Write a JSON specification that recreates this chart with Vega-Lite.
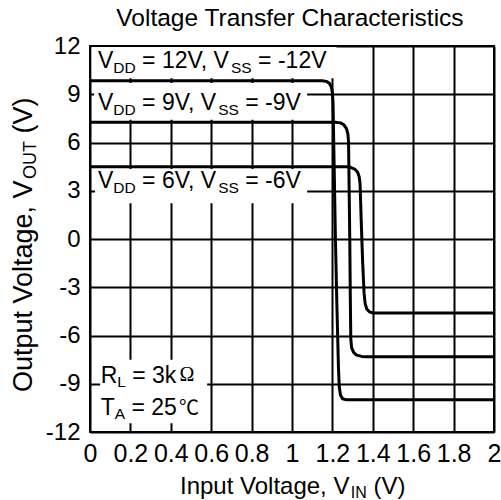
{
  "$schema": "https://vega.github.io/schema/vega-lite/v6.json",
  "width": 404,
  "height": 386,
  "autosize": {"type": "none"},
  "padding": {"left": 90, "top": 46, "right": 7, "bottom": 68},
  "background": "white",
  "config": {"view": {"stroke": null}},
  "datasets": {
    "curves": [
      {"x": 0, "y": 9.84, "s": "12V"}, {"x": 1.15, "y": 9.84, "s": "12V"}, {"x": 1.17, "y": 9.8, "s": "12V"}, {"x": 1.185, "y": 9.68, "s": "12V"}, {"x": 1.195, "y": 9.45, "s": "12V"}, {"x": 1.2, "y": 9.1, "s": "12V"}, {"x": 1.203, "y": 8.5, "s": "12V"}, {"x": 1.208, "y": 5, "s": "12V"}, {"x": 1.215, "y": 0, "s": "12V"}, {"x": 1.222, "y": -4, "s": "12V"}, {"x": 1.23, "y": -8, "s": "12V"}, {"x": 1.234, "y": -9.2, "s": "12V"}, {"x": 1.24, "y": -9.7, "s": "12V"}, {"x": 1.25, "y": -9.93, "s": "12V"}, {"x": 1.27, "y": -10.0, "s": "12V"}, {"x": 2, "y": -10.0, "s": "12V"},
      {"x": 0, "y": 7.26, "s": "9V"}, {"x": 1.215, "y": 7.26, "s": "9V"}, {"x": 1.24, "y": 7.22, "s": "9V"}, {"x": 1.257, "y": 7.1, "s": "9V"}, {"x": 1.27, "y": 6.85, "s": "9V"}, {"x": 1.277, "y": 6.5, "s": "9V"}, {"x": 1.28, "y": 6.0, "s": "9V"}, {"x": 1.283, "y": 3, "s": "9V"}, {"x": 1.286, "y": 0, "s": "9V"}, {"x": 1.289, "y": -4, "s": "9V"}, {"x": 1.291, "y": -6.2, "s": "9V"}, {"x": 1.295, "y": -6.75, "s": "9V"}, {"x": 1.305, "y": -7.05, "s": "9V"}, {"x": 1.32, "y": -7.22, "s": "9V"}, {"x": 1.345, "y": -7.3, "s": "9V"}, {"x": 1.37, "y": -7.32, "s": "9V"}, {"x": 2, "y": -7.32, "s": "9V"},
      {"x": 0, "y": 4.5, "s": "6V"}, {"x": 1.265, "y": 4.5, "s": "6V"}, {"x": 1.29, "y": 4.46, "s": "6V"}, {"x": 1.31, "y": 4.35, "s": "6V"}, {"x": 1.325, "y": 4.15, "s": "6V"}, {"x": 1.333, "y": 3.85, "s": "6V"}, {"x": 1.337, "y": 3.45, "s": "6V"}, {"x": 1.343, "y": 1, "s": "6V"}, {"x": 1.35, "y": -1.5, "s": "6V"}, {"x": 1.357, "y": -3.4, "s": "6V"}, {"x": 1.362, "y": -4.0, "s": "6V"}, {"x": 1.37, "y": -4.35, "s": "6V"}, {"x": 1.383, "y": -4.53, "s": "6V"}, {"x": 1.4, "y": -4.6, "s": "6V"}, {"x": 2, "y": -4.6, "s": "6V"}
    ],
    "boxes": [
      {"x": 0.008, "x2": 1.22, "y": 11.94, "y2": 10.0},
      {"x": 0.02, "x2": 1.075, "y": 9.7, "y2": 7.42},
      {"x": 0.025, "x2": 1.075, "y": 4.35, "y2": 2.22},
      {"x": 0.05, "x2": 0.58, "y": -7.5, "y2": -11.45}
    ],
    "frame": [{"x": 0, "x2": 2, "y": -12, "y2": 12}],
    "title": [{"t": "Voltage Transfer Characteristics", "x": 0.99, "y": 13.24}],
    "main": [
      {"t": "V", "x": 0.0396, "y": 10.61}, {"t": "= 12V, V", "x": 0.2579, "y": 10.61}, {"t": "= -12V", "x": 0.8322, "y": 10.61},
      {"t": "V", "x": 0.0396, "y": 8.02}, {"t": "= 9V, V", "x": 0.2579, "y": 8.02}, {"t": "= -9V", "x": 0.7688, "y": 8.02},
      {"t": "V", "x": 0.0396, "y": 3.15}, {"t": "= 6V, V", "x": 0.2579, "y": 3.15}, {"t": "= -6V", "x": 0.7688, "y": 3.15},
      {"t": "R", "x": 0.053, "y": -8.96}, {"t": "= 3k", "x": 0.2089, "y": -8.96},
      {"t": "T", "x": 0.053, "y": -10.95}, {"t": "= 25", "x": 0.2054, "y": -10.95}
    ],
    "sub": [
      {"t": "DD", "x": 0.1154, "y": 10.3}, {"t": "SS", "x": 0.698, "y": 10.3},
      {"t": "DD", "x": 0.1154, "y": 7.71}, {"t": "SS", "x": 0.6347, "y": 7.71},
      {"t": "DD", "x": 0.1154, "y": 2.84}, {"t": "SS", "x": 0.6347, "y": 2.84},
      {"t": "L", "x": 0.1351, "y": -9.22},
      {"t": "A", "x": 0.1226, "y": -11.2}
    ],
    "xmain": [{"t": "Input Voltage, V", "x": 0.4455, "y": -15.86}, {"t": "(V)", "x": 1.4035, "y": -15.86}],
    "xsub": [{"t": "IN", "x": 1.2911, "y": -16.12}],
    "omega": [{"t": "Ω", "x": 0.4426, "y": -8.8}],
    "degc": [{"t": "℃", "x": 0.4406, "y": -10.95}],
    "ymain": [{"t": "Output Voltage, V", "x": -0.287, "y": -9.52}, {"t": "(V)", "x": -0.287, "y": 6.56}],
    "ysub": [{"t": "OUT", "x": -0.267, "y": 3.73}]
  },
  "encoding": {
    "x": {"field": "x", "type": "quantitative", "scale": {"domain": [0, 2], "nice": false, "zero": false},
      "axis": {"values": [0, 0.2, 0.4, 0.6, 0.8, 1, 1.2, 1.4, 1.6, 1.8, 2], "labelExpr": "'' + datum.value", "title": null, "grid": true, "gridColor": "black", "gridWidth": 2, "gridOpacity": 1, "domain": false, "ticks": false, "tickSize": 0, "labelFont": "Liberation Sans", "labelFontSize": 25, "labelColor": "black", "labelPadding": 9, "labelOverlap": false, "labelBound": false, "labelFlush": false}},
    "y": {"field": "y", "type": "quantitative", "scale": {"domain": [-12, 12], "nice": false, "zero": false},
      "axis": {"values": [-12, -9, -6, -3, 0, 3, 6, 9, 12], "labelExpr": "'' + datum.value", "title": null, "grid": true, "gridColor": "black", "gridWidth": 2, "gridOpacity": 1, "domain": false, "ticks": false, "tickSize": 0, "labelFont": "Liberation Sans", "labelFontSize": 24, "labelColor": "black", "labelPadding": 10, "labelOverlap": false, "labelBound": false}}
  },
  "layer": [
    {"data": {"name": "boxes"}, "mark": {"type": "rect", "fill": "white", "stroke": null}, "encoding": {"x2": {"field": "x2"}, "y2": {"field": "y2"}}},
    {"data": {"name": "curves"}, "mark": {"type": "line", "color": "black", "strokeWidth": 3, "strokeJoin": "round"}, "encoding": {"detail": {"field": "s"}}},
    {"data": {"name": "title"}, "mark": {"type": "text", "font": "Liberation Sans", "fontSize": 24.5, "color": "black", "align": "center", "baseline": "alphabetic"}, "encoding": {"text": {"field": "t"}}},
    {"data": {"name": "main"}, "mark": {"type": "text", "font": "Liberation Sans", "fontSize": 23, "color": "black", "align": "left", "baseline": "alphabetic"}, "encoding": {"text": {"field": "t"}}},
    {"data": {"name": "sub"}, "mark": {"type": "text", "font": "Liberation Sans", "fontSize": 15.5, "color": "black", "align": "left", "baseline": "alphabetic"}, "encoding": {"text": {"field": "t"}}},
    {"data": {"name": "xmain"}, "mark": {"type": "text", "font": "Liberation Sans", "fontSize": 24, "color": "black", "align": "left", "baseline": "alphabetic"}, "encoding": {"text": {"field": "t"}}},
    {"data": {"name": "xsub"}, "mark": {"type": "text", "font": "Liberation Sans", "fontSize": 16, "color": "black", "align": "left", "baseline": "alphabetic"}, "encoding": {"text": {"field": "t"}}},
    {"data": {"name": "omega"}, "mark": {"type": "text", "font": "Liberation Serif", "fontSize": 20, "color": "black", "align": "left", "baseline": "alphabetic"}, "encoding": {"text": {"field": "t"}}},
    {"data": {"name": "degc"}, "mark": {"type": "text", "font": "Noto Sans CJK SC", "fontSize": 20, "color": "black", "align": "left", "baseline": "alphabetic"}, "encoding": {"text": {"field": "t"}}},
    {"data": {"name": "ymain"}, "mark": {"type": "text", "font": "Liberation Sans", "fontSize": 27, "color": "black", "align": "left", "baseline": "alphabetic", "angle": 270}, "encoding": {"text": {"field": "t"}}},
    {"data": {"name": "ysub"}, "mark": {"type": "text", "font": "Liberation Sans", "fontSize": 18, "color": "black", "align": "left", "baseline": "alphabetic", "angle": 270}, "encoding": {"text": {"field": "t"}}},
    {"data": {"name": "frame"}, "mark": {"type": "rect", "fill": null, "fillOpacity": 0, "stroke": "black", "strokeWidth": 2}, "encoding": {"x2": {"field": "x2"}, "y2": {"field": "y2"}}}
  ]
}
